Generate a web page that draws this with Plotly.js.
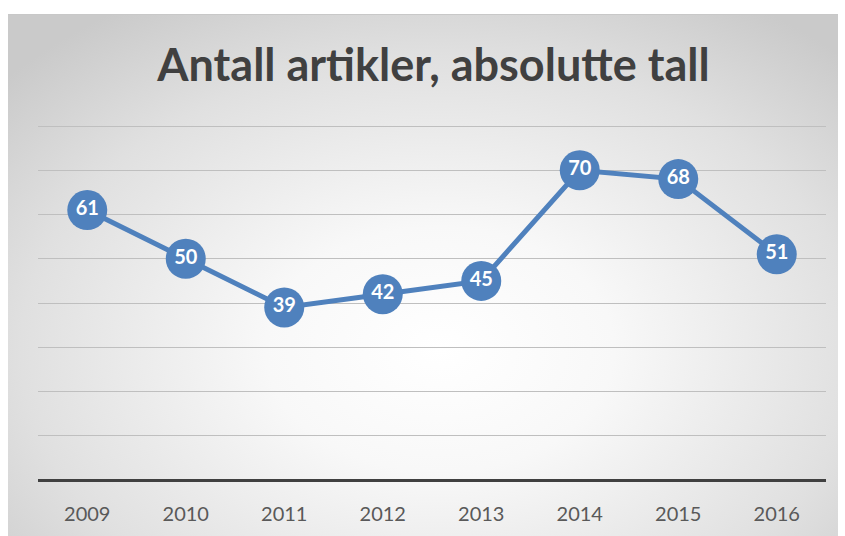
<!DOCTYPE html>
<html>
<head>
<meta charset="utf-8">
<script src="https://cdn.plot.ly/plotly-3.0.1.min.js"></script>
<style>
  html, body { margin: 0; padding: 0; background: #ffffff; }
  #bg { position: absolute; left: 8px; top: 14px; width: 830px; height: 522px;
        background: radial-gradient(ellipse 70% 78% at 52% 64%, #ffffff 0%, #f8f8f8 30%, #e0e0e0 72%, #cacaca 100%);
        border-top: 1px solid #c8c8c8; }
  #chart { position: absolute; left: 0; top: 0; width: 845px; height: 536px; }
</style>
</head>
<body>
<div id="bg"></div>
<div id="chart"></div>
<script>
const years = ['2009', '2010', '2011', '2012', '2013', '2014', '2015', '2016'];
const counts = [61, 50, 39, 42, 45, 70, 68, 51];
const titleText = 'Antall artikler, absolutte tall';

const trace = {
  x: years,
  y: counts,
  type: 'scatter',
  mode: 'lines+markers+text',
  text: counts.map(String),
  textposition: 'middle center',
  textfont: { family: 'Lato, sans-serif', size: 20, color: '#ffffff', weight: 'bold' },
  line: { color: '#4f81bd', width: 5 },
  marker: { color: '#4f81bd', size: 40, line: { width: 0 } },
  hoverinfo: 'none',
  cliponaxis: false
};

const layout = {
  width: 845,
  height: 536,
  margin: { l: 38, r: 19, t: 120, b: 56 },
  paper_bgcolor: 'rgba(0,0,0,0)',
  plot_bgcolor: 'rgba(0,0,0,0)',
  showlegend: false,
  title: {
    text: '<b>' + titleText + '</b>',
    font: { family: 'Lato, sans-serif', size: 45, color: '#404040' },
    x: 0.513, xanchor: 'center',
    y: 0.878, yanchor: 'middle'
  },
  xaxis: {
    type: 'category',
    range: [-0.5, 7.5],
    showgrid: false,
    zeroline: false,
    showline: false,
    ticks: '',
    tickfont: { family: 'Lato, sans-serif', size: 20, color: '#595959' },
    ticklabelstandoff: 20
  },
  yaxis: {
    range: [0, 81.36],
    tickvals: [0, 10, 20, 30, 40, 50, 60, 70, 80],
    showticklabels: false,
    showgrid: true,
    gridcolor: '#bfbfbf',
    gridwidth: 1,
    zeroline: true,
    zerolinecolor: '#404040',
    zerolinewidth: 3,
    showline: false
  }
};

Plotly.newPlot('chart', [trace], layout, { displayModeBar: false, staticPlot: true });
</script>
</body>
</html>
